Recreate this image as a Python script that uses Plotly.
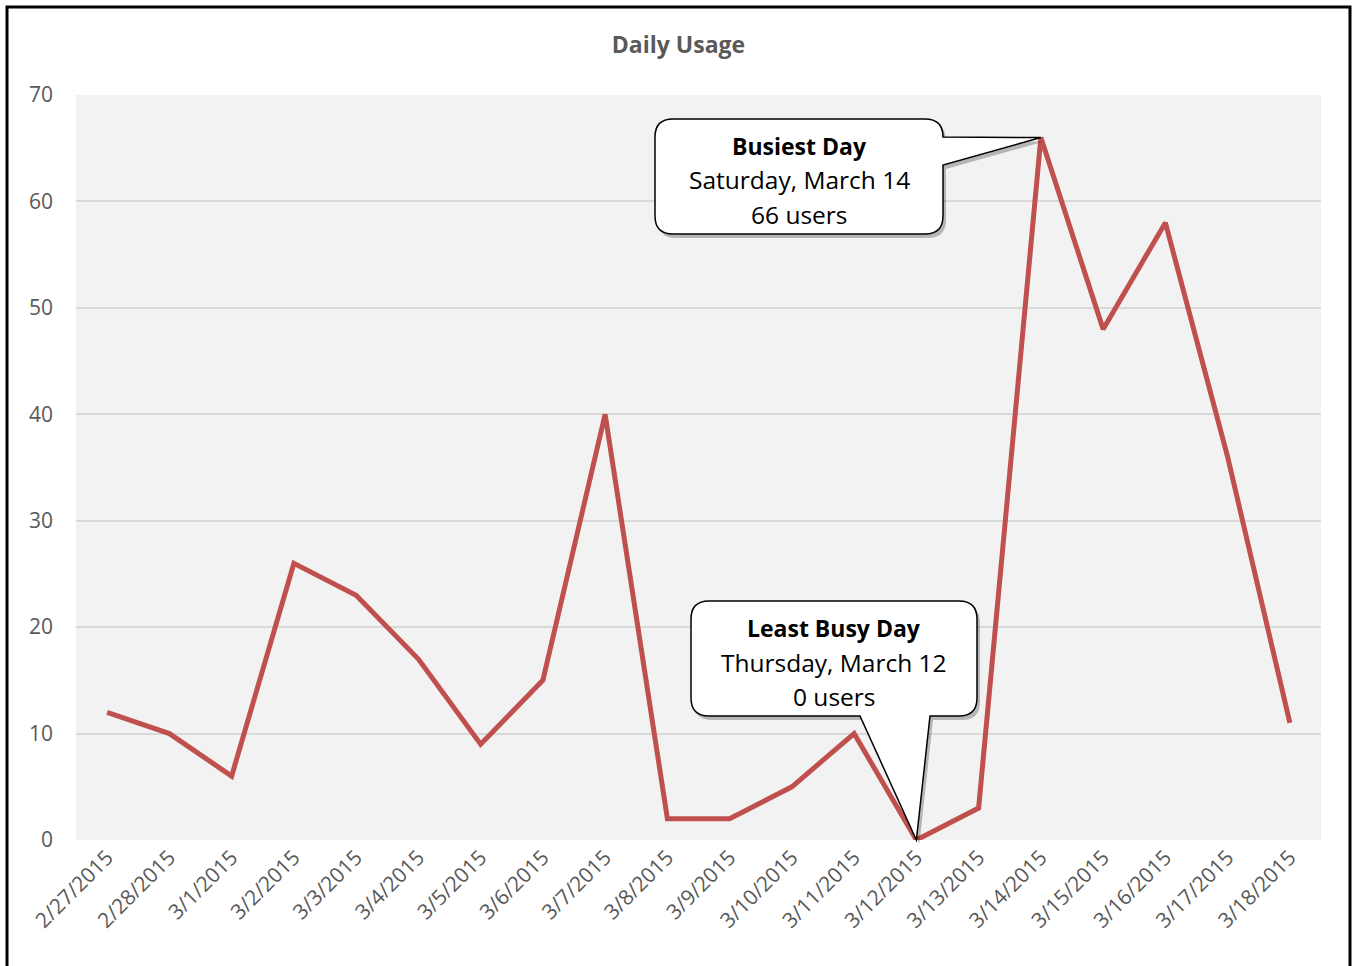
import plotly.graph_objects as go

# ---------------- data ----------------
dates = ["2/27/2015", "2/28/2015", "3/1/2015", "3/2/2015", "3/3/2015", "3/4/2015",
         "3/5/2015", "3/6/2015", "3/7/2015", "3/8/2015", "3/9/2015", "3/10/2015",
         "3/11/2015", "3/12/2015", "3/13/2015", "3/14/2015", "3/15/2015", "3/16/2015",
         "3/17/2015", "3/18/2015"]
users = [12, 10, 6, 26, 23, 17, 9, 15, 40, 2, 2, 5, 10, 0, 3, 66, 48, 58, 36, 11]

title_text = "Daily Usage"
busy_lines = ["Busiest Day", "Saturday, March 14", "66 users"]
least_lines = ["Least Busy Day", "Thursday, March 12", "0 users"]
y_max = 70

# ---------------- layout geometry (pixels) ----------------
FW, FH = 1355, 966
L, T, W, H = 76, 95, 1245, 745
n = len(dates)


def to_paper(px, py):
    return (px - L) / W, (T + H - py) / H


def data_px(i, v):
    return L + (i + 0.5) * W / n, T + H - v * H / y_max


def path_from(points):
    parts = []
    for cmd, pts in points:
        coords = " ".join("%.5f,%.5f" % to_paper(x, y) for x, y in pts)
        parts.append(cmd + coords)
    return " ".join(parts) + " Z"


def callout_right_tail(left, top, right, bottom, r, ty0, ty1, tip, dx=0, dy=0):
    s = lambda x, y: (x + dx, y + dy)
    return path_from([
        ("M", [s(left + r, top)]),
        ("L", [s(right - r, top)]),
        ("Q", [s(right, top), s(right, top + r)]),
        ("L", [s(right, ty0)]),
        ("L", [s(*tip)]),
        ("L", [s(right, ty1)]),
        ("L", [s(right, bottom - r)]),
        ("Q", [s(right, bottom), s(right - r, bottom)]),
        ("L", [s(left + r, bottom)]),
        ("Q", [s(left, bottom), s(left, bottom - r)]),
        ("L", [s(left, top + r)]),
        ("Q", [s(left, top), s(left + r, top)]),
    ])


def callout_bottom_tail(left, top, right, bottom, r, tx_right, tx_left, tip, dx=0, dy=0):
    s = lambda x, y: (x + dx, y + dy)
    return path_from([
        ("M", [s(left + r, top)]),
        ("L", [s(right - r, top)]),
        ("Q", [s(right, top), s(right, top + r)]),
        ("L", [s(right, bottom - r)]),
        ("Q", [s(right, bottom), s(right - r, bottom)]),
        ("L", [s(tx_right, bottom)]),
        ("L", [s(*tip)]),
        ("L", [s(tx_left, bottom)]),
        ("L", [s(left + r, bottom)]),
        ("Q", [s(left, bottom), s(left, bottom - r)]),
        ("L", [s(left, top + r)]),
        ("Q", [s(left, top), s(left + r, top)]),
    ])


i_max = users.index(max(users))
i_min = users.index(min(users))
tip_max = data_px(i_max, users[i_max])
tip_min = data_px(i_min, users[i_min])

fig = go.Figure()
fig.add_trace(go.Scatter(
    x=dates, y=users, mode="lines",
    line=dict(color="#c0504d", width=5),
    hoverinfo="x+y", showlegend=False,
))

shapes = []
# chart frame
fx0, fy1 = to_paper(7, 7)
fx1, fy0 = to_paper(1350, 990)
shapes.append(dict(type="rect", xref="paper", yref="paper", x0=fx0, x1=fx1, y0=fy0, y1=fy1,
                   line=dict(color="black", width=3), fillcolor="rgba(0,0,0,0)", layer="above"))

shadow = "rgba(0,0,0,0.25)"
# busiest callout
b_box = (655, 119, 943, 234)
shapes.append(dict(type="path", xref="paper", yref="paper",
                   path=callout_right_tail(*b_box, 18, 137, 165, tip_max, dx=3, dy=4),
                   fillcolor=shadow, line=dict(width=0), layer="above"))
shapes.append(dict(type="path", xref="paper", yref="paper",
                   path=callout_right_tail(*b_box, 18, 137, 165, tip_max),
                   fillcolor="white", line=dict(color="black", width=1.5), layer="above"))
# least busy callout
l_box = (691, 601, 977, 716)
shapes.append(dict(type="path", xref="paper", yref="paper",
                   path=callout_bottom_tail(*l_box, 18, 930, 860, tip_min, dx=3, dy=4),
                   fillcolor=shadow, line=dict(width=0), layer="above"))
shapes.append(dict(type="path", xref="paper", yref="paper",
                   path=callout_bottom_tail(*l_box, 18, 930, 860, tip_min),
                   fillcolor="white", line=dict(color="black", width=1.5), layer="above"))

annotations = []


def add_lines(lines, cx, ys):
    for k, (txt, py) in enumerate(zip(lines, ys)):
        ax, ay = to_paper(cx, py)
        annotations.append(dict(
            x=ax, y=ay, xref="paper", yref="paper", showarrow=False,
            text=("<b>%s</b>" % txt) if k == 0 else txt,
            font=dict(family="Open Sans", size=23 if k == 0 else 24.5, color="black"),
            xanchor="center", yanchor="middle",
        ))


add_lines(busy_lines, 799, [146, 180, 214])
add_lines(least_lines, 834, [628, 662, 696])

fig.update_layout(
    width=FW, height=FH,
    margin=dict(l=L, r=FW - L - W, t=T, b=FH - T - H, pad=0),
    paper_bgcolor="white",
    plot_bgcolor="#f2f2f2",
    title=dict(text="<b>%s</b>" % title_text, x=678.5 / FW, xref="container", xanchor="center",
               y=1 - 45 / FH, yref="container", yanchor="middle",
               font=dict(family="Open Sans", size=23, color="#595959")),
    font=dict(family="Open Sans", color="#595959"),
    xaxis=dict(type="category", range=[-0.5, n - 0.5], showgrid=False, zeroline=False,
               showline=False, ticks="", tickangle=-45,
               tickfont=dict(family="Open Sans", size=21, color="#595959")),
    yaxis=dict(range=[0, y_max], dtick=10, showgrid=True, gridcolor="#d9d9d9", gridwidth=2,
               zeroline=False, showline=False, ticks="", ticklabelstandoff=22,
               tickfont=dict(family="Open Sans", size=21, color="#595959")),
    shapes=shapes,
    annotations=annotations,
    showlegend=False,
)

fig.write_html("out.html", config={"displayModeBar": False},
               post_script="document.body.style.margin='0';document.body.style.overflow='hidden';")
